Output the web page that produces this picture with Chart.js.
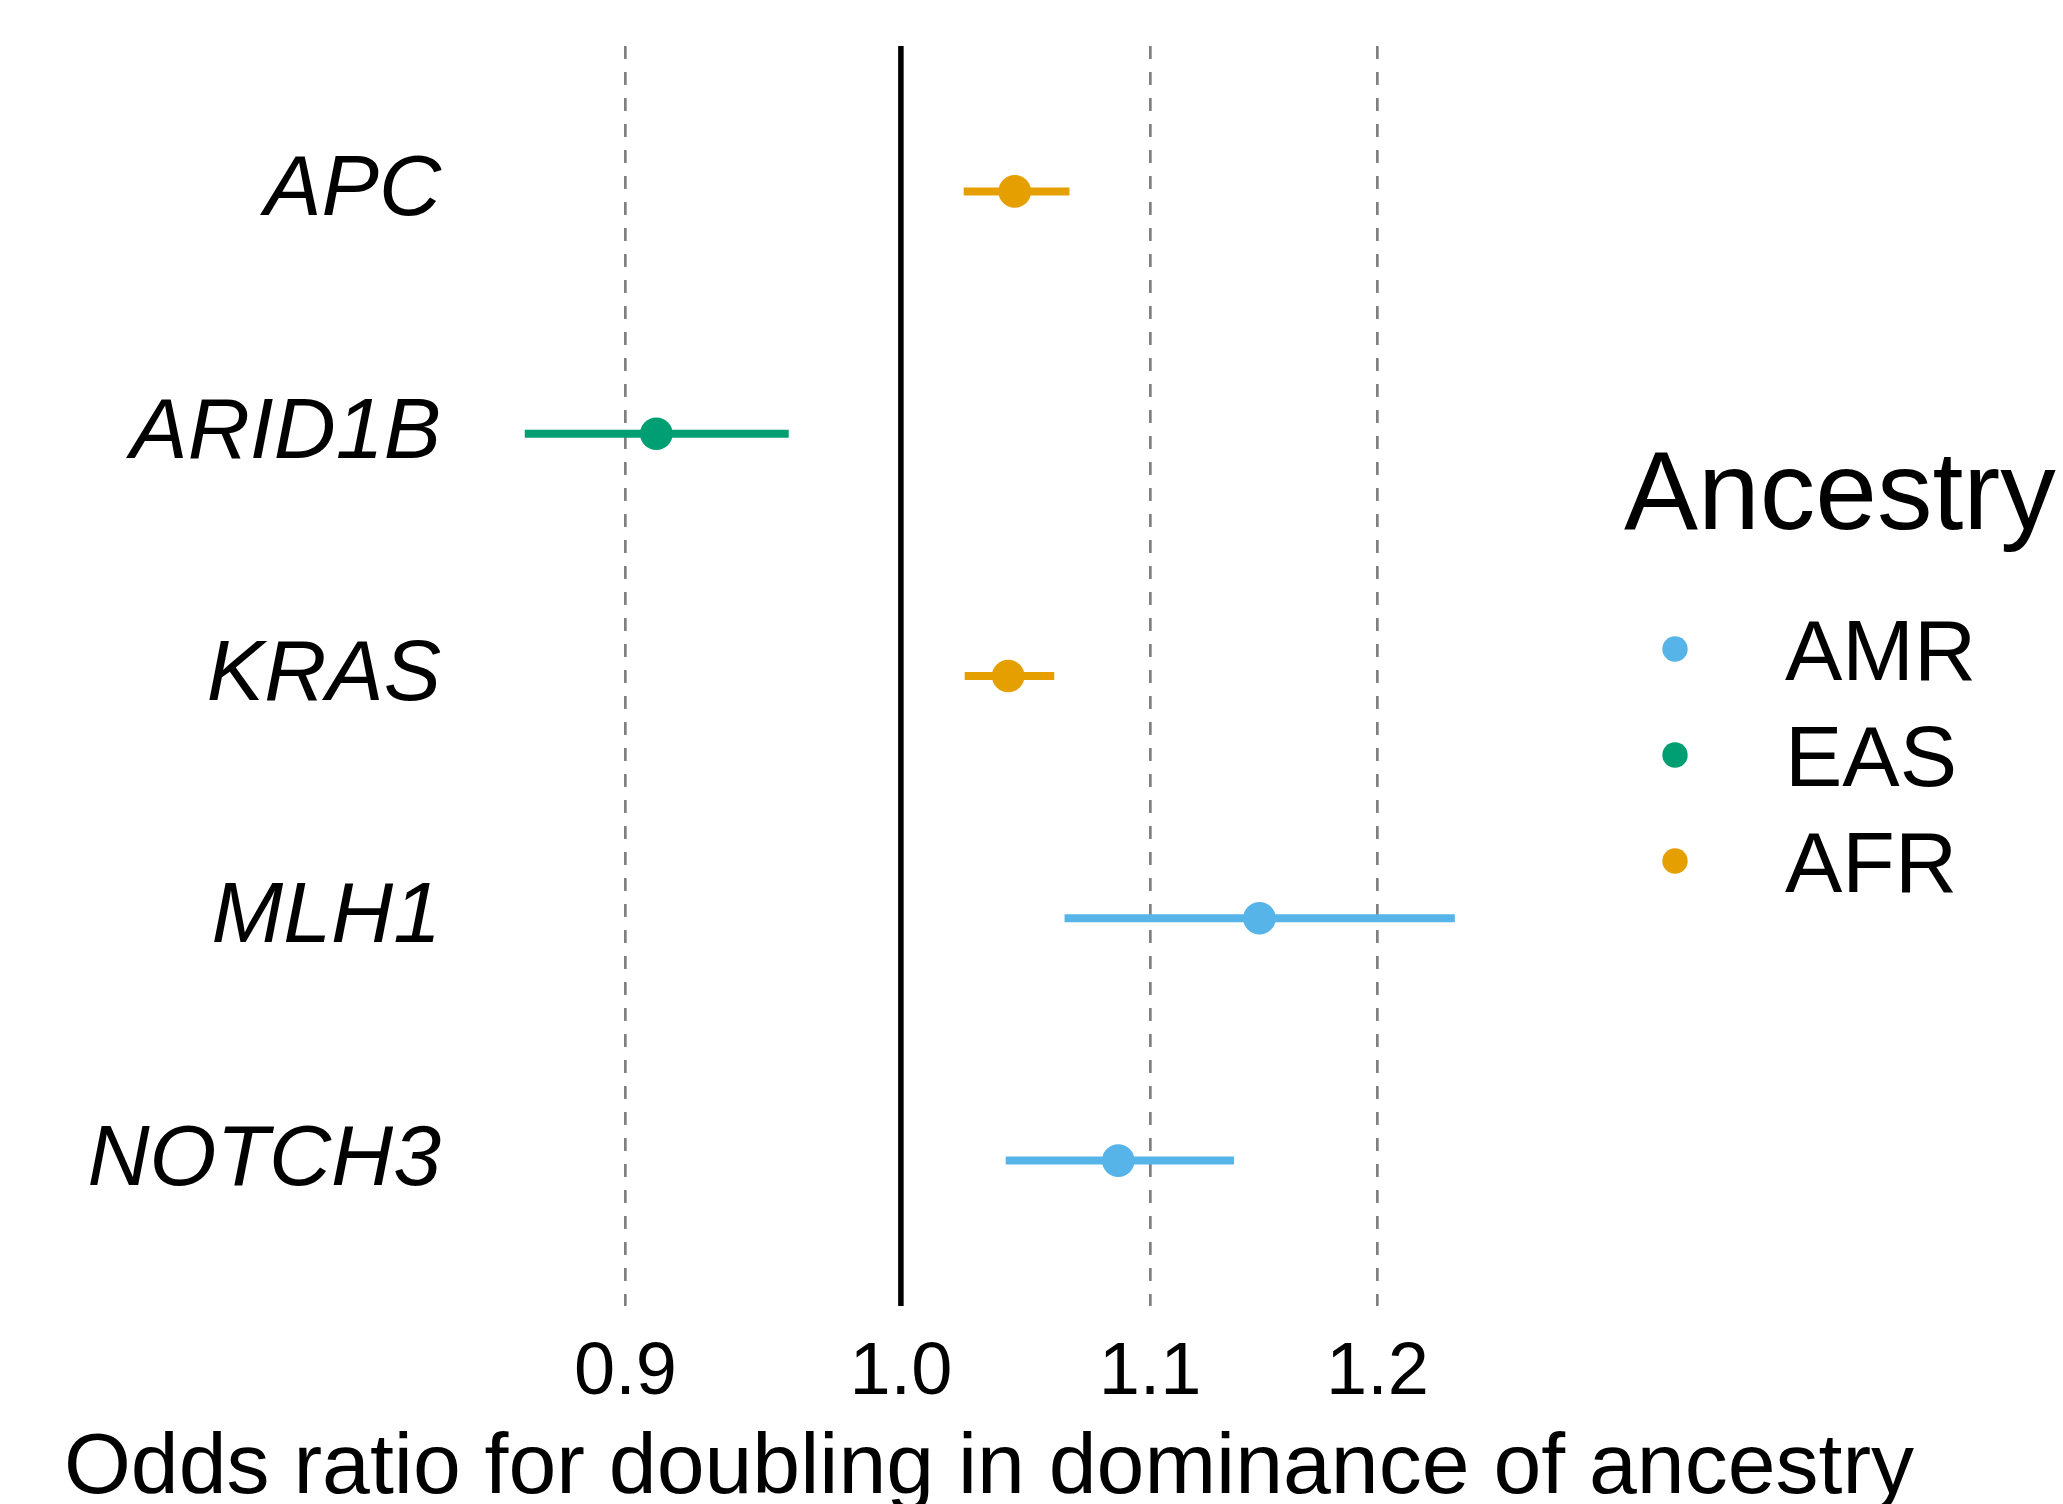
<!DOCTYPE html>
<html>
<head>
<meta charset="utf-8">
<script src="https://cdn.jsdelivr.net/npm/chart.js@4/dist/chart.umd.min.js"></script>
<style>
  body { margin: 0; background: #fff; }
  canvas { display: block; }
</style>
</head>
<body>
<canvas id="myChart" width="2063" height="1504"></canvas>
<script>
// values
const genes = ['APC', 'ARID1B', 'KRAS', 'MLH1', 'NOTCH3'];
const geneAncestry = ['AFR', 'EAS', 'AFR', 'AMR', 'AMR'];
const oddsRatio = [1.0445, 0.9107, 1.0419, 1.147, 1.0867];
const ciLower = [1.0243, 0.866, 1.0247, 1.0646, 1.0409];
const ciUpper = [1.0666, 0.958, 1.0604, 1.236, 1.1359];
const xTicks = [0.9, 1.0, 1.1, 1.2];
const refLine = 1.0;
const xTitle = 'Odds ratio for doubling in dominance of ancestry';
const legendTitle = 'Ancestry';
const legendOrder = ['AMR', 'EAS', 'AFR'];
const ancestryColors = { AMR: '#56B4E9', EAS: '#009E73', AFR: '#E69F00' };

const FONT = '"Liberation Sans", Arial, Helvetica, sans-serif';
const ctx = document.getElementById('myChart').getContext('2d');

let datasets = [];

// vertical reference line at OR = 1
datasets.push({
    type: 'line',
    data: [{ x: refLine, y: 0.4 }, { x: refLine, y: 5.6 }],
    borderColor: '#000',
    borderWidth: 5.5,
    pointRadius: 0,
    order: 3
});

// confidence intervals
genes.forEach((g, i) => {
    datasets.push({
        type: 'line',
        data: [{ x: ciLower[i], y: i + 1 }, { x: ciUpper[i], y: i + 1 }],
        borderColor: ancestryColors[geneAncestry[i]],
        borderWidth: 8,
        borderCapStyle: 'butt',
        pointRadius: 0,
        order: 2
    });
});

// point estimates
datasets.push({
    type: 'scatter',
    data: genes.map((g, i) => ({ x: oddsRatio[i], y: i + 1 })),
    backgroundColor: geneAncestry.map(a => ancestryColors[a]),
    pointRadius: 16.3,
    pointBorderWidth: 0,
    order: 1
});

// legend + x title drawn by hand (ggplot style, title wider than the panel)
const extrasPlugin = {
    id: 'extras',
    afterDraw(chart) {
        const c = chart.ctx;
        const area = chart.chartArea;
        c.save();
        c.fillStyle = '#000';
        c.textBaseline = 'alphabetic';
        c.textAlign = 'center';
        c.font = '86px ' + FONT;
        c.fillText(xTitle, (area.left + area.right) / 2, 1493);

        c.textAlign = 'left';
        c.font = '111px ' + FONT;
        c.fillText(legendTitle, 1624, 529);
        legendOrder.forEach((a, i) => {
            c.fillStyle = ancestryColors[a];
            c.beginPath();
            c.arc(1675, 649 + 106 * i, 12.7, 0, Math.PI * 2);
            c.fill();
            c.fillStyle = '#000';
            c.font = '86px ' + FONT;
            c.fillText(a, 1785, 680 + 106 * i);
        });
        c.restore();
    }
};

var chart = new Chart(ctx, {
    type: 'scatter',
    data: { datasets: datasets },
    plugins: [extrasPlugin],
    options: {
        responsive: false,
        animation: false,
        devicePixelRatio: 1,
        layout: { padding: { left: 0, top: 46, right: 561, bottom: 0 } },
        plugins: { legend: { display: false }, tooltip: { enabled: false } },
        scales: {
            x: {
                type: 'logarithmic',
                min: 0.8508,
                max: 1.2585,
                afterBuildTicks: (scale) => { scale.ticks = xTicks.map(v => ({ value: v })); },
                afterFit: (scale) => {
                    scale.height = 198;
                    scale.paddingLeft = 0;
                    scale.paddingRight = 0;
                },
                grid: {
                    color: (c) => c.tick && c.tick.value === refLine ? 'rgba(0,0,0,0)' : '#808080',
                    lineWidth: 2.7,
                    drawTicks: false
                },
                border: { display: false, dash: [13, 13] },
                ticks: {
                    autoSkip: false,
                    maxRotation: 0,
                    padding: 23,
                    color: '#000',
                    font: { family: FONT, size: 74 },
                    callback: (v) => Number(v).toFixed(1)
                }
            },
            y: {
                type: 'linear',
                reverse: true,
                min: 0.4,
                max: 5.6,
                afterBuildTicks: (scale) => { scale.ticks = genes.map((g, i) => ({ value: i + 1 })); },
                afterFit: (scale) => {
                    scale.width = 476;
                    scale.paddingTop = 0;
                    scale.paddingBottom = 0;
                },
                grid: { display: false, drawTicks: false },
                border: { display: false },
                ticks: {
                    autoSkip: false,
                    padding: 35,
                    color: '#000',
                    font: { family: FONT, size: 86, style: 'italic' },
                    callback: (v) => genes[Math.round(v) - 1]
                }
            }
        }
    }
});
</script>
</body>
</html>
